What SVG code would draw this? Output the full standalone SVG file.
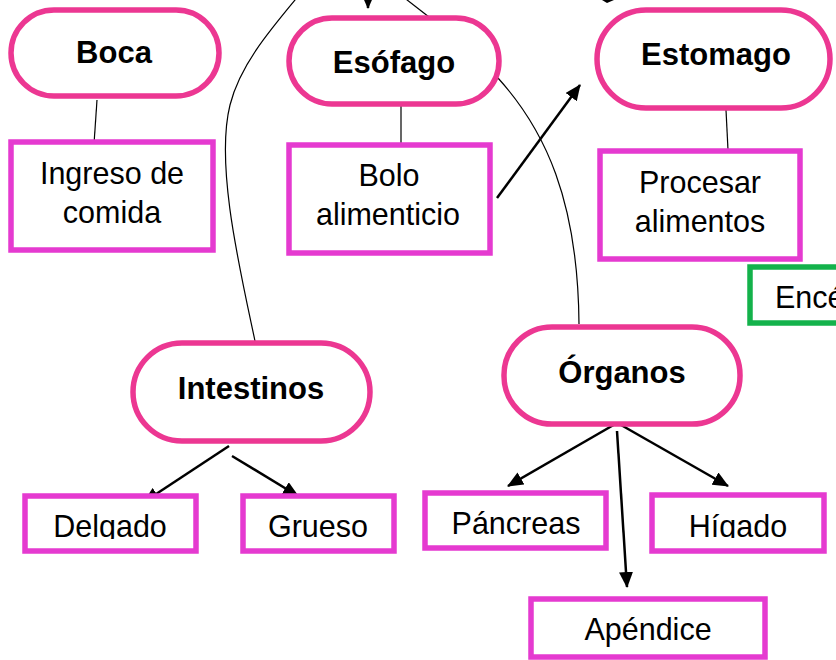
<svg xmlns="http://www.w3.org/2000/svg" width="836" height="660" viewBox="0 0 836 660">
<style>
.pill{fill:#fff;stroke:#ec3792;stroke-width:5.5}
.box{fill:#fff;stroke:#e53ad0;stroke-width:5.5}
.gbox{fill:#fff;stroke:#13b24b;stroke-width:5.5}
.b{font-family:"Liberation Sans",Arial,sans-serif;font-weight:bold;font-size:31px;fill:#000;text-anchor:middle}
.r{font-family:"Liberation Sans",Arial,sans-serif;font-size:30.5px;fill:#000;text-anchor:middle}
.thin{fill:none;stroke:#000;stroke-width:1.2}
.arr{fill:none;stroke:#000;stroke-width:2.5;marker-end:url(#ah)}
</style>
<defs>
<marker id="ah" viewBox="0 0 16 14" refX="15" refY="7" markerWidth="16" markerHeight="14" markerUnits="userSpaceOnUse" orient="auto">
<path d="M0,0 L16,7 L0,14 z" fill="#000"/>
</marker>
<clipPath id="clipDel"><rect x="28" y="499" width="165" height="40"/></clipPath>
<clipPath id="clipHig"><rect x="655" y="498" width="166" height="40"/></clipPath>
</defs>
<rect width="836" height="660" fill="#fff"/>
<g id="connectors">
<line class="thin" x1="97" y1="100" x2="94" y2="144"/>
<line class="thin" x1="401" y1="106" x2="401" y2="145"/>
<line class="thin" x1="726" y1="110" x2="728" y2="150"/>
<path class="thin" d="M498,78 C545,130 578,200 579,324"/>
<path class="thin" d="M255,341 C240,270 215,165 230,105 C240,65 270,30 300,-6"/>
<line class="thin" x1="402" y1="-4" x2="429" y2="17"/>
<line class="arr" x1="368" y1="-30" x2="368" y2="8"/>
<polygon points="602,0 614,0 607,3" fill="#000"/>
<line class="arr" x1="497" y1="198" x2="580" y2="85"/>
<line class="arr" x1="229" y1="446" x2="144" y2="502"/>
<line class="arr" x1="232" y1="456" x2="298" y2="496"/>
<line class="arr" x1="617" y1="423" x2="508" y2="486"/>
<line class="arr" x1="607" y1="417" x2="728" y2="486"/>
<line class="arr" x1="617" y1="431" x2="627" y2="587"/>
</g>
<g id="boca"><rect class="pill" x="11" y="10" width="208" height="86" rx="43"/><text class="b" x="114" y="63">Boca</text></g>
<g id="ingreso"><rect class="box" x="11" y="142" width="202" height="108"/><text class="r" x="112" y="184">Ingreso de</text><text class="r" x="112" y="223">comida</text></g>
<g id="esofago"><rect class="pill" x="289" y="18" width="210" height="86" rx="43"/><text class="b" x="394" y="73">Esófago</text></g>
<g id="bolo"><rect class="box" x="289" y="145" width="201" height="108"/><text class="r" x="389" y="186">Bolo</text><text class="r" x="388" y="225">alimenticio</text></g>
<g id="estomago"><rect class="pill" x="597" y="10" width="233" height="98" rx="49"/><text class="b" x="716" y="65">Estomago</text></g>
<g id="procesar"><rect class="box" x="600" y="151" width="200" height="108"/><text class="r" x="700" y="193">Procesar</text><text class="r" x="700" y="232">alimentos</text></g>
<g id="encefalo"><rect class="gbox" x="750" y="267" width="120" height="56"/><text class="r" x="775" y="308" style="text-anchor:start">Encéfalo</text></g>
<g id="intestinos"><rect class="pill" x="133" y="343" width="237" height="98" rx="49"/><text class="b" x="251" y="399">Intestinos</text></g>
<g id="delgado"><rect class="box" x="25" y="496" width="171" height="55"/><text class="r" x="110" y="537" clip-path="url(#clipDel)">Delgado</text></g>
<g id="grueso"><rect class="box" x="243" y="496" width="151" height="55"/><text class="r" x="318" y="537">Grueso</text></g>
<g id="organos"><rect class="pill" x="504" y="327" width="236" height="97" rx="48"/><text class="b" x="622" y="383">Órganos</text></g>
<g id="pancreas"><rect class="box" x="425" y="493" width="181" height="55"/><text class="r" x="516" y="534">Páncreas</text></g>
<g id="higado"><rect class="box" x="652" y="495" width="172" height="56"/><text class="r" x="738" y="537" clip-path="url(#clipHig)">Hígado</text></g>
<g id="apendice"><rect class="box" x="531" y="599" width="234" height="58"/><text class="r" x="648" y="640">Apéndice</text></g>
</svg>
